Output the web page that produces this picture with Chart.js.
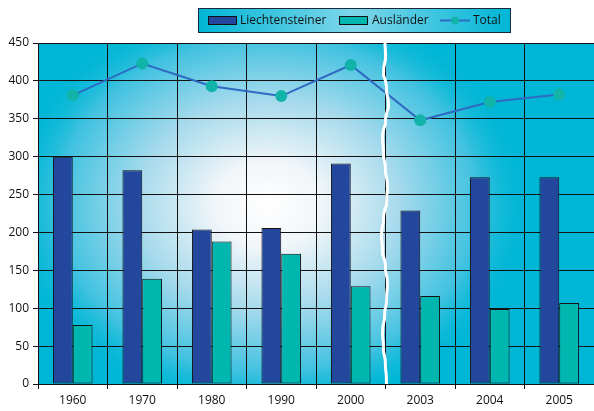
<!DOCTYPE html>
<html>
<head>
<meta charset="utf-8">
<script src="https://cdn.jsdelivr.net/npm/chart.js@4"></script>
<style>
  html, body { margin: 0; padding: 0; background: #fff; }
  #wrap { width: 594px; height: 411px; }
</style>
</head>
<body>
<div id="wrap"><canvas id="popChart" width="594" height="411"></canvas></div>
<script>
var years = ["1960", "1970", "1980", "1990", "2000", "2003", "2004", "2005"];
var liechtensteiner = [300, 282, 204, 206, 291, 229, 273, 273];
var auslaender = [78, 139, 188, 172, 129, 116, 99, 107];
var total = [381, 423, 393, 380, 421, 348, 372, 382];
var seriesNames = ["Liechtensteiner", "Ausländer", "Total"];

var blue = "#22479c";
var teal = "#00b7b0";
var lineBlue = "#2f6ac2";
var dotTeal = "#12b3a9";
var fontName = "'Open Sans', 'DejaVu Sans', sans-serif";

// radial cyan->white background behind the plot
var bgPlugin = {
  id: "bg",
  beforeDraw(chart) {
    var a = chart.chartArea, ctx = chart.ctx;
    ctx.save();
    ctx.beginPath();
    ctx.rect(a.left, a.top, a.right - a.left, a.bottom - a.top);
    ctx.clip();
    ctx.fillStyle = "#00b6d6";
    ctx.fillRect(a.left, a.top, a.right - a.left, a.bottom - a.top);
    var cx = 268, cy = 205;
    ctx.translate(cx, cy);
    ctx.scale(1.25, 1);
    var g = ctx.createRadialGradient(0, 0, 0, 0, 0, 210);
    g.addColorStop(0, "#ffffff");
    g.addColorStop(0.2, "#f2f6f9");
    g.addColorStop(0.5, "#a6daec");
    g.addColorStop(0.8, "#40c2e0");
    g.addColorStop(1, "rgba(0,182,214,0)");
    ctx.fillStyle = g;
    ctx.fillRect(-300, -260, 600, 520);
    ctx.restore();
  },
  afterDraw(chart) {
    var a = chart.chartArea, ctx = chart.ctx, x = chart.scales.x;
    // white wavy break line between 2000 and 2003
    var bx = (x.getPixelForValue(4) + x.getPixelForValue(5)) / 2 - 1;
    ctx.save();
    ctx.strokeStyle = "#ffffff";
    ctx.lineWidth = 3;
    ctx.beginPath();
    var wob = [0, 1, -1, 2, 4, 1, -2, -1, 1, 3, 2, -1, -3, -2, 1, 3, 2, 0, -2, -1, 1, 2];
    var step = (a.bottom - a.top) / (wob.length - 1);
    ctx.moveTo(bx + wob[0], a.top - 5);
    for (var i = 1; i < wob.length; i++) {
      var y0 = a.top + (i - 1) * step, y1 = a.top + i * step;
      ctx.quadraticCurveTo(bx + wob[i - 1] + (wob[i] - wob[i - 1]) * 1.2, (y0 + y1) / 2, bx + wob[i], y1);
    }
    ctx.stroke();
    ctx.restore();

    // legend box
    var lx = 198, ly = 8, lw = 312, lh = 24;
    ctx.save();
    var lg = ctx.createLinearGradient(lx, 0, lx + lw, 0);
    lg.addColorStop(0, "#00b6d6");
    lg.addColorStop(0.5, "#7fd6ea");
    lg.addColorStop(1, "#00b6d6");
    ctx.fillStyle = lg;
    ctx.fillRect(lx, ly, lw, lh);
    ctx.strokeStyle = "#1a2a3a";
    ctx.lineWidth = 1;
    ctx.strokeRect(lx + 0.5, ly + 0.5, lw, lh);
    ctx.font = "12px " + fontName;
    ctx.fillStyle = "#111";
    ctx.textBaseline = "middle";
    var my = ly + lh / 2 + 0.5;
    ctx.fillStyle = blue;
    ctx.fillRect(208, my - 4, 28, 8);
    ctx.strokeStyle = "#111";
    ctx.strokeRect(208.5, my - 4, 28, 8);
    ctx.fillStyle = "#111";
    ctx.fillText(seriesNames[0], 240, my);
    ctx.fillStyle = teal;
    ctx.fillRect(339, my - 4, 28, 8);
    ctx.strokeRect(339.5, my - 4, 28, 8);
    ctx.fillStyle = "#111";
    ctx.fillText(seriesNames[1], 372, my);
    ctx.strokeStyle = lineBlue;
    ctx.lineWidth = 2;
    ctx.beginPath();
    ctx.moveTo(440, my);
    ctx.lineTo(470, my);
    ctx.stroke();
    ctx.fillStyle = dotTeal;
    ctx.beginPath();
    ctx.arc(455, my, 4, 0, Math.PI * 2);
    ctx.fill();
    ctx.fillStyle = "#111";
    ctx.fillText(seriesNames[2], 473, my);
    ctx.restore();
  }
};

new Chart("popChart", {
  type: "bar",
  data: {
    labels: years,
    datasets: [
      {
        type: "line",
        label: seriesNames[2],
        data: total,
        borderColor: lineBlue,
        borderWidth: 2,
        pointBackgroundColor: dotTeal,
        pointBorderColor: dotTeal,
        pointRadius: 5,
        tension: 0,
        order: 0
      },
      {
        label: seriesNames[0],
        data: liechtensteiner,
        backgroundColor: blue,
        borderColor: "#111",
        borderWidth: 1,
        borderSkipped: false,
        barPercentage: 1,
        categoryPercentage: 0.57,
        order: 1
      },
      {
        label: seriesNames[1],
        data: auslaender,
        backgroundColor: teal,
        borderColor: "#111",
        borderWidth: 1,
        borderSkipped: false,
        barPercentage: 1,
        categoryPercentage: 0.57,
        order: 1
      }
    ]
  },
  options: {
    responsive: false,
    animation: false,
    layout: { autoPadding: false, padding: { top: 43, right: 0, left: 0, bottom: 0 } },
    plugins: {
      legend: { display: false },
      tooltip: { enabled: false }
    },
    scales: {
      x: {
        offset: true,
        grid: { color: "#111", lineWidth: 1, offset: true, tickLength: 5, drawTicks: true },
        border: { color: "#111", width: 1 },
        ticks: { color: "#111", font: { family: fontName, size: 12 }, padding: 4 },
        afterFit(s) { s.height = 27; s.paddingLeft = 0; s.paddingRight = 0; }
      },
      y: {
        min: 0,
        max: 450,
        ticks: { stepSize: 50, color: "#111", font: { family: fontName, size: 12 }, padding: 4 },
        grid: { color: "#111", lineWidth: 1, tickLength: 5 },
        border: { color: "#111", width: 1 },
        afterFit(s) { s.width = 38; }
      }
    }
  },
  plugins: [bgPlugin]
});
</script>
</body>
</html>
